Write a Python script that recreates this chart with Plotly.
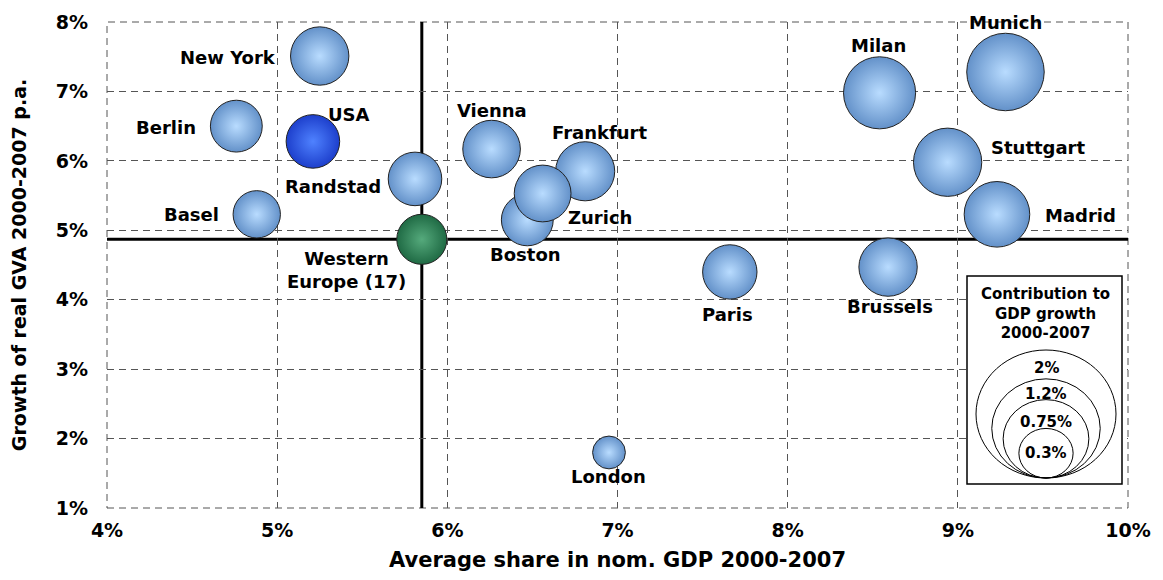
import plotly.graph_objects as go

# ---------------- data ----------------
cities = ["New York", "Berlin", "Basel", "Randstad", "Vienna", "Frankfurt", "Boston",
          "Zurich", "Paris", "Milan", "Munich", "Stuttgart", "Madrid", "Brussels", "London"]
city_share = [5.25, 4.76, 4.88, 5.81, 6.26, 6.81, 6.47, 6.56, 7.66, 8.54, 9.28, 8.94, 9.23, 8.59, 6.95]
city_growth = [7.51, 6.50, 5.23, 5.74, 6.17, 5.85, 5.15, 5.53, 4.40, 6.98, 7.28, 5.98, 5.23, 4.47, 1.80]
city_contrib = [0.38, 0.30, 0.25, 0.32, 0.37, 0.39, 0.30, 0.36, 0.33, 0.58, 0.67, 0.52, 0.48, 0.38, 0.12]

usa_name = "USA"
usa_share = [5.21]
usa_growth = [6.28]
usa_contrib = [0.32]

we_name = "Western<br>Europe (17)"
we_share = [5.85]
we_growth = [4.87]
we_contrib = [0.28]

legend_vals = [2, 1.2, 0.75, 0.3]
legend_labels = ["2%", "1.2%", "0.75%", "0.3%"]
legend_title = "Contribution to<br>GDP growth<br>2000-2007"

x_title = "Average share in nom. GDP 2000-2007"
y_title = "Growth of real GVA 2000-2007 p.a."
x_ticks = [4, 5, 6, 7, 8, 9, 10]
y_ticks = [1, 2, 3, 4, 5, 6, 7, 8]

# ---------------- styles / positions ----------------
FONT = "DejaVu Sans"
W, H = 1163, 580
ML, MR, MT, MB = 107, 35, 22, 72
PW, PH = W - ML - MR, H - MT - MB
SIZEREF = 4 / 133.9 ** 2   # 2% -> ~134 px bubble

# label offsets in screen px: (dx, dy down, xanchor)
label_pos = {
    "New York": (-42, 1, "right"), "Berlin": (-38, 1, "right"), "Basel": (-36, 0, "right"),
    "Randstad": (-32, 8, "right"), "Vienna": (0, -39, "center"), "Frankfurt": (14, -39, "center"),
    "Boston": (-2, 35, "center"), "Zurich": (57, 24, "center"), "Paris": (-2, 43, "center"),
    "Milan": (-1, -47, "center"), "Munich": (0, -49, "center"), "Stuttgart": (91, -15, "center"),
    "Madrid": (84, 1, "center"), "Brussels": (2, 39, "center"), "London": (0, 24, "center"),
    "USA": (36, -27, "center"), "WE": (-75, 31, "center"),
}

def bubble(x, y, v, outer, inner, name):
    return go.Scatter(
        x=x, y=y, mode="markers", name=name, hoverinfo="skip",
        marker=dict(size=v, sizemode="area", sizeref=SIZEREF, color=outer,
                    gradient=dict(type="radial", color=inner),
                    line=dict(color="#222222", width=1), opacity=1),
    )

fig = go.Figure()
fig.add_trace(bubble(city_share, city_growth, city_contrib, "#6391c9", "#b9dcff", "cities"))
fig.add_trace(bubble(usa_share, usa_growth, usa_contrib, "#1d3fcc", "#4f82ff", usa_name))
fig.add_trace(bubble(we_share, we_growth, we_contrib, "#1f6a44", "#55aa7c", "WE"))

ann = []
def add_label(text, x, y, key):
    dx, dy, xa = label_pos[key]
    ann.append(dict(x=x, y=y, xref="x", yref="y", text="<b>%s</b>" % text, showarrow=False,
                    xanchor=xa, yanchor="middle", xshift=dx, yshift=-dy,
                    font=dict(family=FONT, size=18, color="black")))

for n, xv, yv in zip(cities, city_share, city_growth):
    add_label(n, xv, yv, n)
add_label(usa_name, usa_share[0], usa_growth[0], "USA")
add_label(we_name, we_share[0], we_growth[0], "WE")

# legend box (pixel layout -> paper)
def px(xp):
    return (xp - ML) / PW
def py(yp):
    return (MT + PH - yp) / PH

shapes = []
# dashed frame
shapes.append(dict(type="rect", xref="paper", yref="paper", x0=0, x1=1, y0=0, y1=1,
                   line=dict(color="#555555", width=1, dash="7px,5px"), layer="between"))
# reference lines through Western Europe
shapes.append(dict(type="line", xref="paper", yref="y", x0=0, x1=1, y0=we_growth[0], y1=we_growth[0],
                   line=dict(color="black", width=3), layer="between"))
shapes.append(dict(type="line", xref="x", yref="paper", x0=we_share[0], x1=we_share[0], y0=0, y1=1,
                   line=dict(color="black", width=3), layer="between"))
# legend box
shapes.append(dict(type="rect", xref="paper", yref="paper", x0=px(967), x1=px(1122), y0=py(484), y1=py(276),
                   line=dict(color="black", width=1.5), fillcolor="white", layer="above"))
LW, LH = 140, 128
bx, by = px(1046), py(478)
label_drop = [18, 15, 22, 25]
for v, lab, drop in zip(legend_vals, legend_labels, label_drop):
    f = (v / 2) ** 0.5
    w, h = LW * f, LH * f
    shapes.append(dict(type="circle", xref="paper", yref="paper", xsizemode="pixel", ysizemode="pixel",
                       xanchor=bx, yanchor=by, x0=-w / 2, x1=w / 2, y0=0, y1=h,
                       line=dict(color="black", width=1), layer="above"))
    ann.append(dict(x=bx, y=by, xref="paper", yref="paper", text="<b>%s</b>" % lab, showarrow=False,
                    xanchor="center", yanchor="middle", yshift=h - drop,
                    font=dict(family=FONT, size=15, color="black")))
ann.append(dict(x=px(1045), y=py(314), xref="paper", yref="paper", text="<b>%s</b>" % legend_title,
                showarrow=False, xanchor="center", yanchor="middle",
                font=dict(family=FONT, size=15, color="black")))

axis_common = dict(showgrid=True, gridcolor="#555555", gridwidth=1, griddash="7px,5px",
                   zeroline=False, showline=False, ticks="",
                   tickfont=dict(family=FONT, size=19, color="black", weight="bold"))

fig.update_layout(
    width=W, height=H, margin=dict(l=ML, r=MR, t=MT, b=MB),
    paper_bgcolor="white", plot_bgcolor="white", showlegend=False,
    font=dict(family=FONT),
    xaxis=dict(range=[4, 10], tickvals=x_ticks, ticktext=["%d%%" % t for t in x_ticks],
               ticklabelstandoff=9,
               title=dict(text="<b>%s</b>" % x_title, font=dict(family=FONT, size=21, color="black"),
                          standoff=12),
               **axis_common),
    yaxis=dict(range=[1, 8], tickvals=y_ticks, ticktext=["%d%%" % t for t in y_ticks],
               ticklabelstandoff=18,
               title=dict(text="<b>%s</b>" % y_title, font=dict(family=FONT, size=19, color="black"),
                          standoff=24),
               **axis_common),
    shapes=shapes, annotations=ann,
)

fig.write_html("out.html", config={"displayModeBar": False},
               post_script="document.body.style.margin='0';document.body.style.overflow='hidden';")
